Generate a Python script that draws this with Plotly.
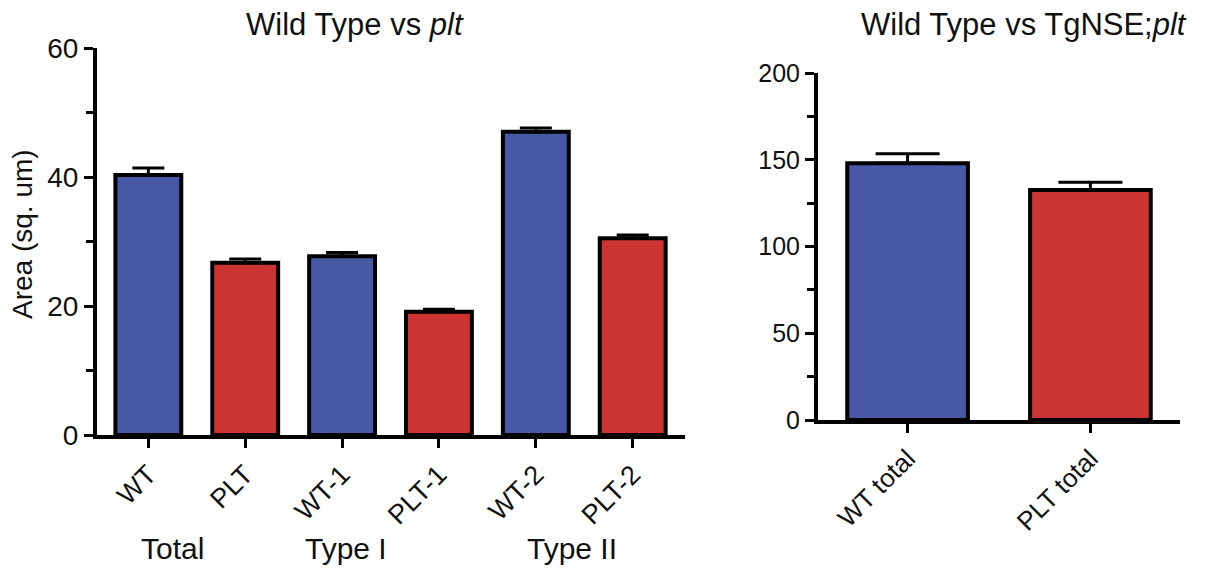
import plotly.graph_objects as go

# Data
left_categories = ["WT", "PLT", "WT-1", "PLT-1", "WT-2", "PLT-2"]
left_values = [40.3, 26.7, 27.7, 19.1, 47.0, 30.5]
left_errors = [1.1, 0.6, 0.6, 0.4, 0.6, 0.5]
left_colors = ["#4759A5", "#CC3333", "#4759A5", "#CC3333", "#4759A5", "#CC3333"]

group_labels = ["Total", "Type I", "Type II"]
group_positions = [0.25, 2.04, 4.37]

right_categories = ["WT total", "PLT total"]
right_values = [148.0, 132.5]
right_errors = [5.5, 4.5]
right_colors = ["#4759A5", "#CC3333"]

FONT = "Liberation Sans, Arial, sans-serif"
W, H = 1207, 569
TXT = "#111111"


def px(x):
    return x / W


def py(y):
    return 1 - y / H


fig = go.Figure()

fig.add_trace(go.Bar(
    x=list(range(len(left_categories))), y=left_values,
    marker=dict(color=left_colors, line=dict(color="black", width=4)),
    width=0.68,
    error_y=dict(type="data", symmetric=False, array=left_errors,
                 arrayminus=[0] * len(left_errors),
                 color="black", thickness=3, width=16),
    xaxis="x", yaxis="y", showlegend=False, hoverinfo="skip",
))

fig.add_trace(go.Bar(
    x=list(range(len(right_categories))), y=right_values,
    marker=dict(color=right_colors, line=dict(color="black", width=4)),
    width=0.66,
    error_y=dict(type="data", symmetric=False, array=right_errors,
                 arrayminus=[0] * len(right_errors),
                 color="black", thickness=3, width=32),
    xaxis="x2", yaxis="y2", showlegend=False, hoverinfo="skip",
))


def axis_style(fontsize):
    return dict(showline=True, linecolor="black", linewidth=4, automargin=False,
                ticks="outside", tickcolor="black", tickwidth=3, ticklen=9,
                showgrid=False, zeroline=False,
                tickfont=dict(family=FONT, size=fontsize, color=TXT))


fig.update_layout(
    width=W, height=H,
    margin=dict(l=0, r=0, t=0, b=0),
    paper_bgcolor="white", plot_bgcolor="white",
    bargap=0,
    xaxis=dict(domain=[px(97), px(685)], range=[-0.53, 5.54],
               tickmode="array", tickvals=list(range(len(left_categories))),
               ticktext=left_categories, tickangle=-45, anchor="y",
               **axis_style(27)),
    yaxis=dict(domain=[py(435), py(48)], range=[0, 60],
               tickvals=[0, 20, 40, 60], anchor="x",
               minor=dict(tickvals=[10, 30, 50], ticklen=7, tickwidth=3,
                          tickcolor="black", ticks="outside"),
               **axis_style(28)),
    xaxis2=dict(domain=[px(818), px(1180)], range=[-0.49, 1.49],
                tickmode="array", tickvals=list(range(len(right_categories))),
                ticktext=right_categories, tickangle=-45, anchor="y2",
                **axis_style(26)),
    yaxis2=dict(domain=[py(420), py(73)], range=[0, 200],
                tickvals=[0, 50, 100, 150, 200], anchor="x2",
                minor=dict(tickvals=[25, 75, 125, 175], ticklen=7, tickwidth=3,
                           tickcolor="black", ticks="outside"),
                **axis_style(25)),
)

annotations = [
    dict(text="Wild Type vs <i>plt</i>", x=px(355), y=py(24),
         xref="paper", yref="paper", xanchor="center", yanchor="middle",
         showarrow=False, font=dict(family=FONT, size=31, color=TXT)),
    dict(text="Wild Type vs TgNSE;<i>plt</i>", x=px(1024), y=py(24),
         xref="paper", yref="paper", xanchor="center", yanchor="middle",
         showarrow=False, font=dict(family=FONT, size=31, color=TXT)),
    dict(text="Area (sq. um)", x=px(23), y=py(234), textangle=-90,
         xref="paper", yref="paper", xanchor="center", yanchor="middle",
         showarrow=False, font=dict(family=FONT, size=28, color=TXT)),
]
for label, pos in zip(group_labels, group_positions):
    annotations.append(dict(text=label, x=pos, y=py(548), xref="x", yref="paper",
                            xanchor="center", yanchor="middle", showarrow=False,
                            font=dict(family=FONT, size=30, color=TXT)))
fig.update_layout(annotations=annotations)

# remove the default page margin so the figure sits at the window's corner
fig.write_html("out.html",
               config={"displayModeBar": False, "staticPlot": True},
               post_script="document.body.style.margin='0';document.body.style.overflow='hidden';")
